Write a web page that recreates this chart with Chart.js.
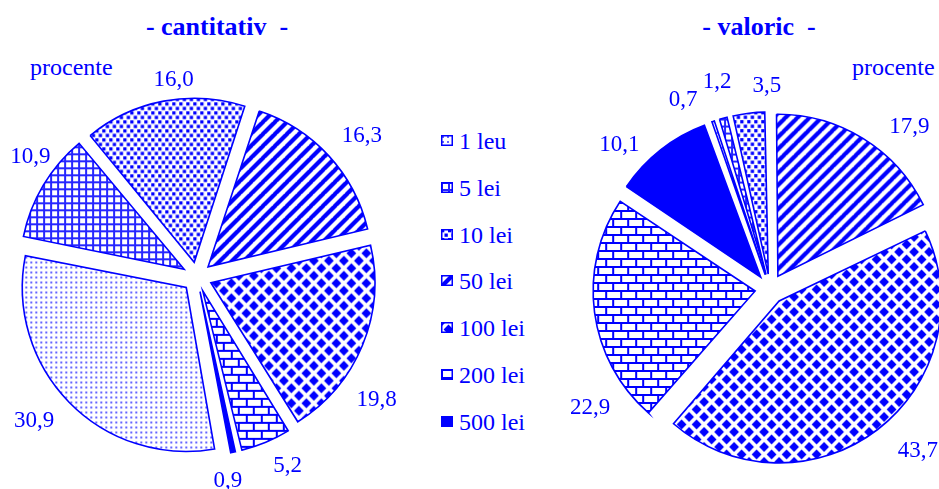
<!DOCTYPE html>
<html>
<head>
<meta charset="utf-8">
<script src="https://cdn.jsdelivr.net/npm/chart.js@4/dist/chart.umd.min.js"></script>
<style>
  body{margin:0;width:939px;height:489px;overflow:hidden;background:#fff;position:relative;
       font-family:'Liberation Serif','Times New Roman',serif;color:#0000ff}
  .box{position:absolute;top:0;height:489px}
  .title{position:absolute;top:14px;font-size:26px;line-height:26px;font-weight:bold;white-space:pre;transform:translateX(-50%)}
  .unit{position:absolute;top:55px;font-size:24px;line-height:24px}
  #legend{position:absolute;left:441px;top:129px}
  #legend .item{position:absolute;left:0;height:24px;white-space:nowrap}
  #legend canvas{position:absolute;left:0;top:6px}
  #legend span{position:absolute;left:18px;top:0;font-size:24px;line-height:24px}
</style>
</head>
<body>
<div class="title" style="left:217px">- cantitativ  -</div>
<div class="title" style="left:759px">- valoric  -</div>
<div class="unit" style="left:30px">procente</div>
<div class="unit" style="left:852px">procente</div>

<div class="box" style="left:0;width:420px"><canvas id="pieCant"></canvas></div>
<div class="box" style="left:560px;width:379px"><canvas id="pieVal"></canvas></div>
<div id="legend"></div>

<script>
(function(){
  const BLUE='#0000ff';

  const categories=['1 leu','5 lei','10 lei','50 lei','100 lei','200 lei','500 lei'];
  const cantitativ=[30.9, 10.9, 16.0, 16.3, 19.8, 5.2, 0.9];
  const valoric=[0.7, 1.2, 3.5, 17.9, 43.7, 22.9, 10.1];

  // hatch fills, one per banknote
  const maker=document.createElement('canvas').getContext('2d');
  function tile(w,h,draw){
    const c=document.createElement('canvas');
    c.width=w; c.height=h;
    const g=c.getContext('2d');
    g.fillStyle='#fff'; g.fillRect(0,0,w,h);
    g.fillStyle=BLUE; g.strokeStyle=BLUE;
    draw(g,w,h);
    return maker.createPattern(c,'repeat');
  }
  const fills=[
    // 1 leu: fine dots
    tile(5,5,g=>{ g.globalAlpha=0.6; g.fillRect(1,1,2,2); }),
    // 5 lei: square grid
    tile(7,7,g=>{ g.globalAlpha=0.85; g.fillRect(0,0,7,2); g.fillRect(0,2,2,5); }),
    // 10 lei: staggered squares
    tile(7,9,g=>{ g.fillRect(0,0,3.3,3.3); g.fillRect(3.5,4.5,3.3,3.3); }),
    // 50 lei: wide diagonal stripes
    tile(12,12,g=>{
      g.lineWidth=4.2;
      [-12,0,12].forEach(k=>{ g.beginPath(); g.moveTo(k-1,13); g.lineTo(k+13,-1); g.stroke(); });
    }),
    // 100 lei: diamonds
    tile(15,15,g=>{
      const r=4.9;
      [[0,0],[15,0],[0,15],[15,15],[7.5,7.5]].forEach(([x,y])=>{
        g.beginPath(); g.moveTo(x,y-r); g.lineTo(x+r,y); g.lineTo(x,y+r); g.lineTo(x-r,y); g.closePath(); g.fill();
      });
    }),
    // 200 lei: bricks
    tile(15,16,g=>{ g.fillRect(0,0,15,2); g.fillRect(0,8,15,2); g.fillRect(0,0,2,8); g.fillRect(7,8,2,8); }),
    // 500 lei: solid
    BLUE
  ];

  // keep every slice at the same radius when exploded
  const evenRadius={
    id:'evenRadius',
    afterDatasetsUpdate(chart){
      const ds=chart.data.datasets[0];
      const off=(ds.offset||0)/4;
      chart.getDatasetMeta(0).data.forEach(arc=>{
        const fix=1-Math.sin(Math.min(Math.PI, arc.circumference));
        arc.outerRadius-=off*fix;
      });
    }
  };

  // percentage next to each slice
  const sliceLabels={
    id:'sliceLabels',
    afterDatasetsDraw(chart, args, opts){
      const ds=chart.data.datasets[0];
      const meta=chart.getDatasetMeta(0);
      const R=meta.controller.outerRadius;
      const off=(ds.offset||0)/4;
      const ctx=chart.ctx;
      ctx.save();
      ctx.font=opts.font;
      ctx.fillStyle=BLUE;
      ctx.textAlign='center';
      ctx.textBaseline='middle';
      meta.data.forEach((arc,i)=>{
        const s=opts.shift[i]||[0,0];
        const a=(arc.startAngle+arc.endAngle)/2 + s[0]*Math.PI/180;
        const text=ds.data[i].toFixed(1).replace('.',',');
        const w=ctx.measureText(text).width;
        const cos=Math.cos(a), sin=Math.sin(a);
        const d=R+off+opts.gap+s[1]+Math.abs(cos)*w/2+Math.abs(sin)*7.5;
        ctx.fillText(text, arc.x+cos*d, arc.y+sin*d);
      });
      ctx.restore();
    }
  };

  function pieChart(id, values, rotation, radius, padding, shift){
    return new Chart(document.getElementById(id), {
      type:'pie',
      data:{
        labels:categories,
        datasets:[{
          data:values,
          backgroundColor:fills,
          borderColor:BLUE,
          borderWidth:1.6,
          borderJoinStyle:'miter',
          offset:60,
          radius:radius,
          rotation:rotation
        }]
      },
      options:{
        responsive:true,
        maintainAspectRatio:false,
        animation:false,
        events:[],
        layout:{padding:padding},
        plugins:{
          legend:{display:false},
          tooltip:{enabled:false},
          sliceLabels:{font:'23px "Liberation Serif", serif', gap:18, shift:shift}
        }
      },
      plugins:[evenRadius, sliceLabels]
    });
  }

  pieChart('pieCant', cantitativ, 170, 164, {top:65, right:26},
    [[3,0],[5,-12],[4,-8],[2,0],[12,0],[-3,0],[3,0]]);
  pieChart('pieVal', valoric, 340, 162, {top:89, left:41},
    [[-6,0],[1,8],[6,0],[9,0],[-5,5],[-26,0],[-8,-6]]);

  // legend between the two pies
  const legend=document.getElementById('legend');
  categories.forEach((name,i)=>{
    const row=document.createElement('div');
    row.className='item';
    row.style.top=(i*46.8)+'px';
    const sw=document.createElement('canvas');
    sw.width=12; sw.height=11;
    const g=sw.getContext('2d');
    g.fillStyle=fills[i]; g.fillRect(0,0,12,11);
    g.strokeStyle=BLUE; g.lineWidth=1.5; g.strokeRect(0.75,0.75,10.5,9.5);
    row.appendChild(sw);
    const span=document.createElement('span');
    span.textContent=name;
    row.appendChild(span);
    legend.appendChild(row);
  });
})();
</script>
</body>
</html>
